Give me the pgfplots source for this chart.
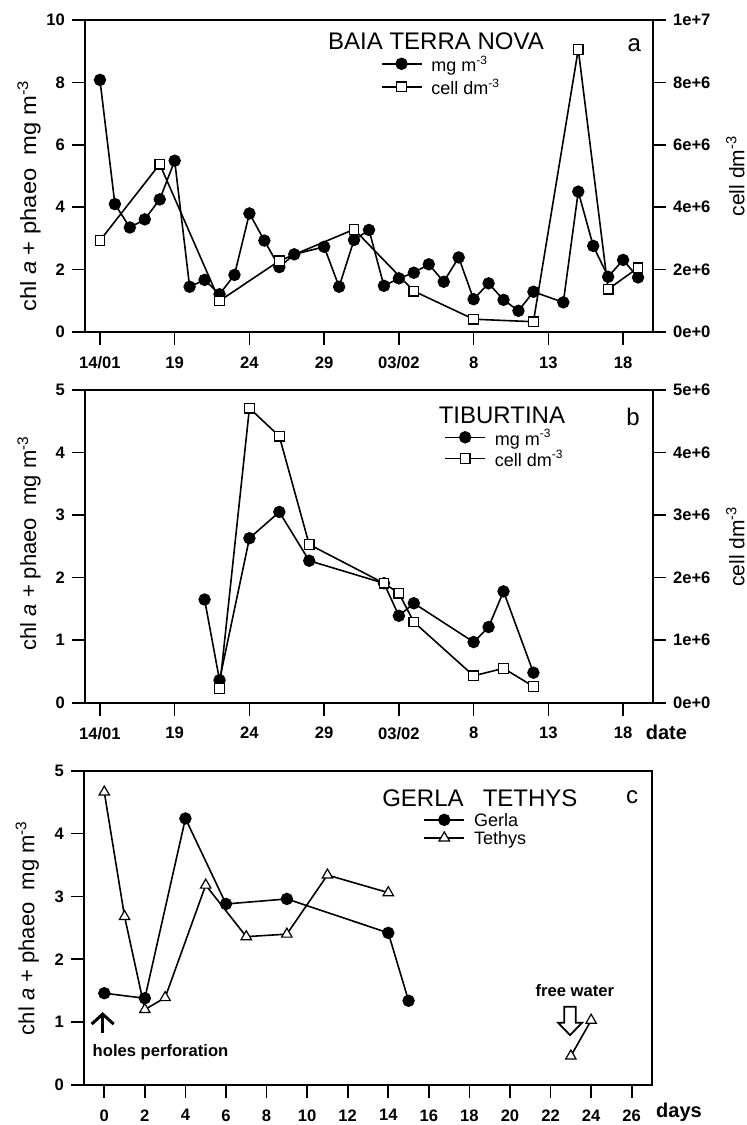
\documentclass[border=0pt]{standalone}
\usepackage{fontspec}
\setmainfont{Liberation Sans}
\usepackage{pgfplots}
\pgfplotsset{compat=1.18}
\usetikzlibrary{arrows.meta}

\newcommand\tickfont{\fontsize{8.3}{10}\selectfont\bfseries}
\newcommand\labfont{\fontsize{11}{13}\selectfont}
\newcommand\rlabfont{\fontsize{10.5}{12}\selectfont}
\newcommand\legfont{\fontsize{9}{11}\selectfont}
\newcommand\titfont{\fontsize{12}{14}\selectfont}

\pgfplotsset{
  panel/.style={
    scale only axis, width=284pt, clip=false,
    axis line style={line width=0.8pt},
    every tick/.style={line width=0.8pt, black},
    tick align=outside, major tick length=6.5pt,
    tick label style={font=\tickfont},
    xticklabel style={yshift=-2.2pt},
    /pgf/number format/assume math mode=true,
    scaled y ticks=false,
    every axis plot/.append style={line width=0.8pt, black},
    legend image code/.code={\draw[mark repeat=2,mark phase=2] plot coordinates {(0pt,0pt) (10pt,0pt) (20pt,0pt)};},
    legend cell align=left,
    legend style={draw=none, fill=none, font=\legfont, anchor=north west,
      inner sep=0pt, row sep=0.5pt, column sep=3.5pt,
      nodes={inner sep=1pt, text depth=0pt}},
  },
  dot/.style={mark=*, mark size=2.7pt, mark options={fill=black, solid}},
  box/.style={mark=square*, mark size=2.4pt, mark options={fill=white, line width=0.6pt, solid}},
  tri/.style={mark=triangle*, mark size=3pt, mark options={fill=white, line width=0.6pt, solid}},
  datex/.style={xmin=13, xmax=51, xtick={14,19,24,29,34,39,44,49},
    xticklabels={14/01,19,24,29,03/02,8,13,18}},
}

\begin{document}
\begin{tikzpicture}
\useasboundingbox (0,0) rectangle (373.5pt,-562.5pt);

% ---------- a
\begin{axis}[panel, datex, at={(42.5pt,-10pt)}, anchor=north west, height=156pt,
  ymin=0, ymax=10, ytick={0,2,...,10}, xtick pos=left, ytick pos=left,
  ylabel={\scalebox{1.08}[1]{chl \textit{a} + phaeo\ \ mg m\textsuperscript{-3}}},
  ylabel style={at={(axis description cs:-0.0986,0.436)}, anchor=center, font=\labfont},
  legend style={at={(0.52,0.893)}, row sep=1.5pt}]
\addplot[dot] coordinates {
(14,8.08)(15,4.10)(16,3.35)(17,3.61)(18,4.25)(19,5.49)(20,1.45)(21,1.67)(22,1.21)
(23,1.83)(24,3.80)(25,2.93)(26,2.08)(27,2.49)(29,2.73)(30,1.45)(31,2.95)(32,3.27)
(33,1.48)(34,1.72)(35,1.90)(36,2.17)(37,1.61)(38,2.39)(39,1.05)(40,1.56)(41,1.03)
(42,0.68)(43,1.29)(45,0.95)(46,4.50)(47,2.76)(48,1.77)(49,2.31)(50,1.75)};
\addlegendentry{mg m\textsuperscript{-3}}
\addlegendimage{box}
\addlegendentry{cell dm\textsuperscript{-3}}
\node[font=\titfont, inner sep=0pt] at (axis description cs:0.618,0.932) {BAIA TERRA NOVA};
\node[font=\titfont, inner sep=0pt] at (axis description cs:0.967,0.920) {a};
\end{axis}
\begin{axis}[panel, datex, at={(42.5pt,-10pt)}, anchor=north west, height=156pt,
  axis x line=none, axis y line*=right,
  ymin=0, ymax=10000000, ytick={0,2000000,4000000,6000000,8000000,10000000},
  yticklabels={0e+0,2e+6,4e+6,6e+6,8e+6,1e+7},
  ylabel={cell dm\textsuperscript{-3}},
  every axis y label/.style={at={(axis description cs:1.145,0.5)}, rotate=90, anchor=center, font=\rlabfont}]
\addplot[box] coordinates {
(14,2930000)(18,5380000)(22,1000000)(26,2280000)(31,3290000)(35,1310000)
(39,410000)(43,330000)(46,9060000)(48,1370000)(50,2060000)};
\end{axis}

% ---------- b
\begin{axis}[panel, datex, at={(42.5pt,-195pt)}, anchor=north west, height=156.35pt,
  ymin=0, ymax=5, ytick={0,1,...,5}, xtick pos=left, ytick pos=left,
  ylabel={chl \textit{a} + phaeo\ \ mg m\textsuperscript{-3}},
  ylabel style={at={(axis description cs:-0.0986,0.51)}, anchor=center, font=\labfont},
  legend style={at={(0.632,0.882)}}]
\addplot[dot] coordinates {
(21,1.65)(22,0.36)(24,2.63)(26,3.05)(28,2.27)(33,1.91)(34,1.39)(35,1.59)
(39,0.97)(40,1.21)(41,1.78)(43,0.48)};
\addlegendentry{mg m\textsuperscript{-3}}
\addlegendimage{box}
\addlegendentry{cell dm\textsuperscript{-3}}
\node[font=\titfont] at (axis description cs:0.734,0.920) {TIBURTINA};
\node[font=\titfont] at (axis description cs:0.965,0.914) {b};
\node[font=\fontsize{10}{12}\selectfont\bfseries, anchor=base west] at (axis description cs:0.975,-0.117) {date};
\end{axis}
\begin{axis}[panel, datex, at={(42.5pt,-195pt)}, anchor=north west, height=156.35pt,
  axis x line=none, axis y line*=right,
  ymin=0, ymax=5000000, ytick={0,1000000,2000000,3000000,4000000,5000000},
  yticklabels={0e+0,1e+6,2e+6,3e+6,4e+6,5e+6},
  ylabel={cell dm\textsuperscript{-3}},
  every axis y label/.style={at={(axis description cs:1.145,0.5)}, rotate=90, anchor=center, font=\rlabfont}]
\addplot[box] coordinates {
(22,230000)(24,4710000)(26,4260000)(28,2530000)(33,1910000)(34,1750000)
(35,1290000)(39,430000)(41,550000)(43,260000)};
\end{axis}

% ---------- c
\begin{axis}[panel, at={(42pt,-385.35pt)}, anchor=north west, height=157.15pt,
  xmin=-1, xmax=27, xtick={0,2,...,26}, ymin=0, ymax=5, ytick={0,1,...,5},
  xtick pos=left, ytick pos=left,
  ylabel={chl \textit{a} + phaeo\ \ mg m\textsuperscript{-3}},
  ylabel style={at={(axis description cs:-0.1,0.5)}, anchor=center, font=\labfont},
  legend style={at={(0.597,0.872)}}]
\addplot[dot] coordinates {(0,1.46)(2,1.38)(4,4.24)(6,2.88)(9,2.96)(14,2.42)(15,1.34)};
\addlegendentry{Gerla}
\addplot[tri] coordinates {(0,4.66)(1,2.68)(2,1.20)(3,1.39)(5,3.18)(7,2.36)(9,2.40)(11,3.34)(14,3.06)};
\addlegendentry{Tethys}
\addplot[tri, forget plot] coordinates {(23,0.46)(24,1.03)};
\node[font=\titfont] at (axis description cs:0.697,0.913) {GERLA\hspace{0.8em}TETHYS};
\node[font=\titfont] at (axis description cs:0.965,0.916) {c};
\draw[line width=1.5pt, -{Straight Barb[length=5pt,width=11pt]}] (axis cs:-0.08,0.83) -- (axis cs:-0.08,1.16);
\node[anchor=west, font=\tickfont, inner sep=0pt] at (axis cs:-0.59,0.52) {holes perforation};
\node[font=\tickfont, inner sep=0pt] at (axis cs:23.2,1.51) {free water};
\draw[line width=0.9pt, fill=white, shift={(axis cs:22.96,1.245)}]
  (-2.9pt,0pt) -- (-2.9pt,-8pt) -- (-6pt,-8pt) -- (0pt,-14.2pt) -- (6pt,-8pt) -- (2.9pt,-8pt) -- (2.9pt,0pt) -- cycle;
\node[font=\fontsize{10}{12}\selectfont\bfseries, anchor=base west] at (axis description cs:0.995,-0.105) {days};
\end{axis}
\end{tikzpicture}
\end{document}
